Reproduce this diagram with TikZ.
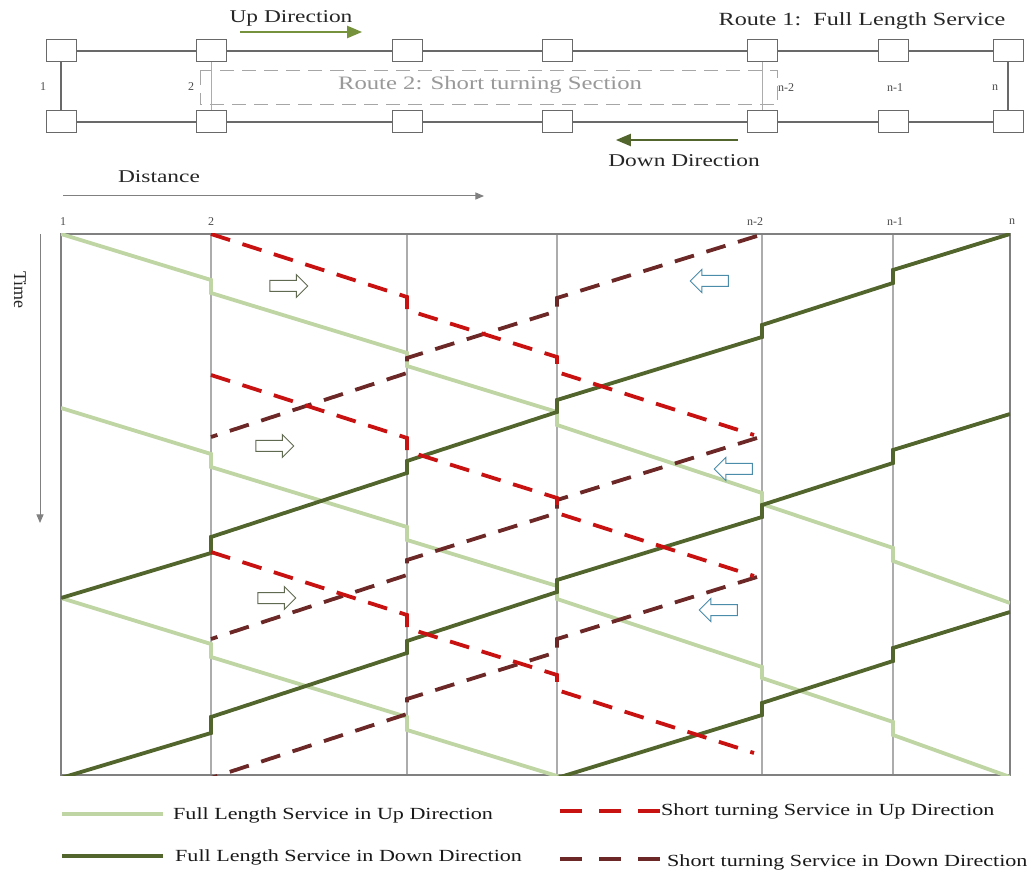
\documentclass[tikz,border=0pt]{standalone}
\usepackage{fontspec}
\setmainfont{Liberation Serif}
\usepackage{graphicx}
\usetikzlibrary{arrows,shapes.arrows}
\definecolor{upgreen}{RGB}{191,213,163}
\definecolor{downgreen}{RGB}{82,101,44}
\definecolor{upred}{RGB}{200,18,18}
\definecolor{downbrown}{RGB}{108,40,38}
\definecolor{linegray}{RGB}{105,105,105}
\definecolor{gridgray}{RGB}{172,172,172}
\definecolor{arrowgreen}{RGB}{118,146,60}
\definecolor{hollowblue}{RGB}{74,140,170}
\definecolor{hollowolive}{RGB}{96,106,80}
\newcommand{\wide}[1]{\scalebox{1.3}[1]{#1}}
\newcommand{\fsz}[1]{\fontsize{#1}{#1}\selectfont}

\begin{document}
\begin{tikzpicture}[x=1pt,y=-1pt,line join=miter,>=triangle 45,
  stbox/.style={draw=linegray,line width=1pt,fill=white,minimum width=30pt,minimum height=22pt,inner sep=0pt},
  track/.style={draw=linegray,line width=1.3pt},
  endlink/.style={draw=linegray,line width=2.2pt},
  turnlink/.style={draw=gridgray,line width=1pt},
  toptext/.style={text=black!85,font=\fsz{18}},
  stlabel/.style={text=black!70,font=\fsz{12}},
  legtext/.style={text=black!90,font=\fsz{17},anchor=west,inner sep=0pt},
  upfull/.style={color=upgreen,line width=3.8pt},
  downfull/.style={color=downgreen,line width=3.8pt},
  upshort/.style={color=upred,line width=3.8pt,dash pattern=on 20pt off 13pt},
  downshort/.style={color=downbrown,line width=3.8pt,dash pattern=on 20pt off 13pt},
  hollowright/.style={single arrow,draw=hollowolive,fill=white,line width=1pt,minimum height=38pt,inner sep=5pt,single arrow head extend=6pt},
  hollowleft/.style={hollowright,draw=hollowblue,shape border rotate=180}]
	\useasboundingbox (0,0) rectangle (1029,874);
	% line diagram
	\draw [gray!70,line width=1pt,dash pattern=on 14pt off 8pt] (200,71) rectangle (777,105);
	\foreach \x [count=\i] in {61,211,407,557,762,893,1008} {
		\node [stbox] (u\i) at (\x,51) {};
		\node [stbox] (d\i) at (\x,122) {};
	}
	\foreach \i [evaluate=\i as \j using int(\i+1)] in {1,...,6} {
		\draw [track] (u\i) -- (u\j);
		\draw [track] (d\i) -- (d\j);
	}
	\draw [endlink] (u1) -- (d1);
	\draw [endlink] (u7) -- (d7);
	\draw [turnlink] (u2) -- (d2);
	\draw [turnlink] (u5) -- (d5);
	\node [stlabel] (t1) at (43,87) {1};
	\node [stlabel] (t2) at (191,87) {2};
	\node [stlabel] (t5) at (786,88) {n-2};
	\node [stlabel] (t6) at (895,88) {n-1};
	\node [stlabel] (t7) at (995,88) {n};
	\node [toptext,text=gray!80,font=\fsz{19}] (route2) at (490,85) {\wide{Route 2: Short turning Section}};
	\node [toptext,font=\fsz{18.6}] (route1) at (862,21) {\wide{Route 1:\ \ Full Length Service}};
	\node [toptext] (updir) at (291,18) {\wide{Up Direction}};
	\node [toptext] (downdir) at (684,161) {\wide{Down Direction}};
	\coordinate (upa) at (240,32);
	\coordinate (upb) at (362,32);
	\coordinate (downa) at (738,140);
	\coordinate (downb) at (616,140);
	\draw [->,arrowgreen,line width=2.5pt] (upa) -- (upb);
	\draw [->,downgreen,line width=2.5pt] (downa) -- (downb);
	% axes
	\node [toptext] (dist) at (159,177) {\wide{Distance}};
	\node [toptext,rotate=-90] (time) at (20,290) {Time};
	\coordinate (dista) at (63,196);
	\coordinate (distb) at (484,196);
	\coordinate (timea) at (40,234);
	\coordinate (timeb) at (40,523);
	\draw [->,gray,line width=1pt] (dista) -- (distb);
	\draw [->,gray,line width=1pt] (timea) -- (timeb);
	% time-distance chart
	\foreach \x in {211,407,557,762,893}
		\draw [gridgray,line width=1.2pt] (\x,234) -- (\x,775);
	\draw [gray,line width=1.6pt] (61,234) rectangle (1010,775);
	\node [stlabel] (c1) at (63,222) {1};
	\node [stlabel] (c2) at (211,222) {2};
	\node [stlabel] (c5) at (755,222) {n-2};
	\node [stlabel] (c6) at (895,222) {n-1};
	\node [stlabel] (c7) at (1012,222) {n};
	\begin{scope}
		\clip (61,234) rectangle (1010,775);
		\foreach \t in {234,408,598}
			\draw [upfull] (61,\t) -- ++(150,46) -- ++(0,13) -- ++(196,60) -- ++(0,13) -- ++(150,46) -- ++(0,13) -- ++(205,68) -- ++(0,11) -- ++(131,44) -- ++(0,13) -- ++(117,42);
		\foreach \t in {234,414,612}
			\draw [downfull] (1010,\t) -- ++(-117,36) -- ++(0,13) -- ++(-131,42) -- ++(0,12) -- ++(-205,63) -- ++(0,12) -- ++(-150,49) -- ++(0,12) -- ++(-196,64) -- ++(0,16) -- ++(-150,45);
		\foreach \t in {236,438,577}
			\draw [downshort] (757,\t) -- ++(-200,62) -- ++(0,13) -- ++(-150,47) -- ++(0,15) -- ++(-196,64);
		\foreach \t in {234,375,552}
			\draw [upshort] (211,\t) -- ++(196,63) -- ++(0,13) -- ++(150,47) -- ++(0,15) -- ++(197,63);
	\end{scope}
	\node [hollowright] (ar1) at (286,286) {};
	\node [hollowright] (ar2) at (272,446) {};
	\node [hollowright] (ar3) at (274,598) {};
	\node [hollowleft] (al1) at (712,281) {};
	\node [hollowleft] (al2) at (736,469) {};
	\node [hollowleft] (al3) at (721,610) {};
	% legend
	\draw [upfull,line width=4.5pt] (62,814) -- (163,814);
	\draw [downfull,line width=4.5pt] (62,856) -- (163,856);
	\draw [upshort,line width=4.5pt,dash pattern=on 22pt off 17pt] (560,811) -- (660,811);
	\draw [downshort,line width=4.5pt,dash pattern=on 22pt off 17pt] (560,859) -- (660,859);
	\node [legtext] (lupfull) at (173,815) {\wide{Full Length Service in Up Direction}};
	\node [legtext] (ldownfull) at (175,857) {\wide{Full Length Service in Down Direction}};
	\node [legtext] (lupshort) at (661,811) {\wide{Short turning Service in Up Direction}};
	\node [legtext] (ldownshort) at (667,862) {\wide{Short turning Service in Down Direction}};
\end{tikzpicture}
\end{document}
